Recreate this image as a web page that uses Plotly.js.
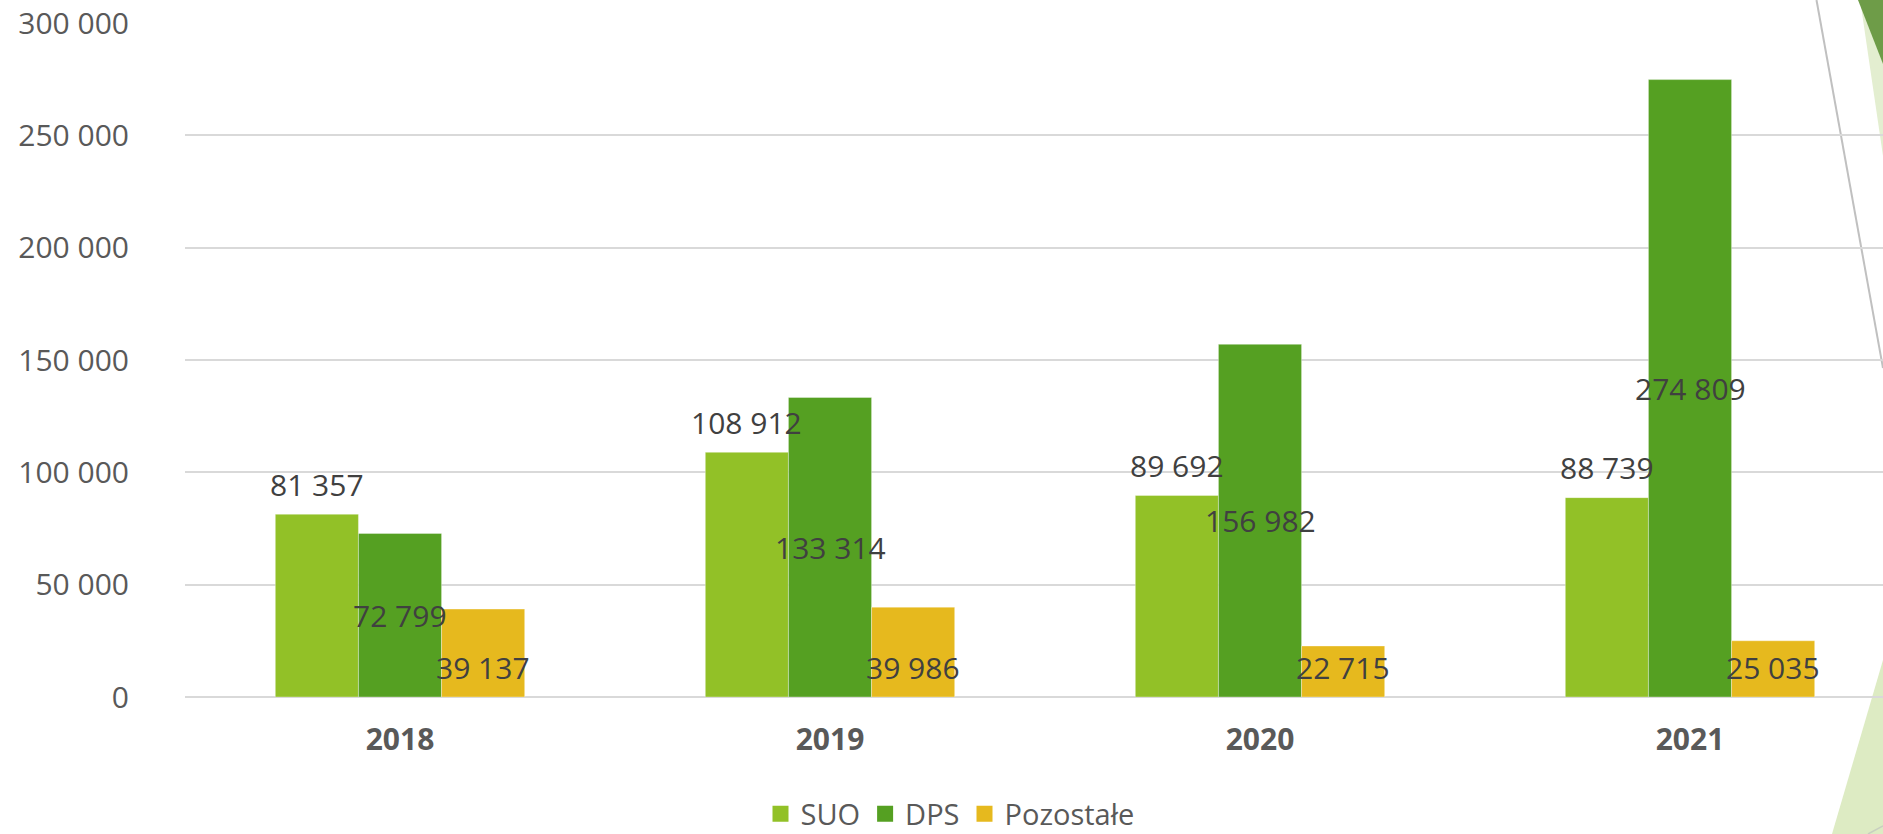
<!DOCTYPE html>
<html>
<head>
<meta charset="utf-8">
<script src="https://cdn.plot.ly/plotly-3.0.1.min.js"></script>
<style>html,body{margin:0;padding:0;background:#fff;}#chart{width:1883px;height:834px;}</style>
</head>
<body>
<div id="chart"></div>
<script>
// ---- data ----
const years = ['2018', '2019', '2020', '2021'];
const suo = [81357, 108912, 89692, 88739];
const dps = [72799, 133314, 156982, 274809];
const pozostale = [39137, 39986, 22715, 25035];
const seriesNames = ['SUO', 'DPS', 'Pozostałe'];
const yTickValues = [0, 50000, 100000, 150000, 200000, 250000, 300000];

// ---- styling ----
const colors = ['#92C127', '#55A022', '#E6B91E'];
const FONT = '"Open Sans", "Noto Sans", sans-serif';
const W = 1883, H = 834;
const M = {l: 185, r: 0, t: 23, b: 137};
const plotW = W - M.l - M.r, plotH = H - M.t - M.b;
const catPx = 430;                       // pixel width of one category
const xEnd = plotW / catPx - 0.5;
const bargap = 0.42;
const barW = (1 - bargap) / 3;

function fmt(v) { return String(v).replace(/\B(?=(\d{3})+(?!\d))/g, ' '); }
function px(x) { return (x - M.l) / plotW; }
function py(y) { return (H - M.b - y) / plotH; }

const series = [suo, dps, pozostale];
const traces = series.map((vals, k) => ({
  type: 'bar', x: years, y: vals, name: seriesNames[k],
  marker: {color: colors[k], line: {color: 'rgba(255,255,255,0.35)', width: 1}},
  showlegend: false, hoverinfo: 'x+y'
}));
// legend entries with larger square swatches
seriesNames.forEach((n, k) => traces.push({
  type: 'scatter', mode: 'markers', x: [years[0]], y: [null], name: n,
  marker: {symbol: 'square', size: 17, color: colors[k]}, hoverinfo: 'skip'
}));

const labelFont = {family: FONT, size: 30, color: '#404040'};
const annotations = [];
years.forEach((yr, i) => {
  annotations.push({x: i - barW, y: suo[i], xref: 'x', yref: 'y', text: fmt(suo[i]),
    showarrow: false, yanchor: 'middle', yshift: 30, font: labelFont});
  annotations.push({x: i, y: dps[i] / 2, xref: 'x', yref: 'y', text: fmt(dps[i]),
    showarrow: false, yanchor: 'middle', font: labelFont});
  annotations.push({x: i + barW, y: 0, xref: 'x', yref: 'y', text: fmt(pozostale[i]),
    showarrow: false, yanchor: 'middle', yshift: 30, font: labelFont});
});

// slide decoration on the right edge
const shapes = [
  {type: 'path', xref: 'paper', yref: 'paper', layer: 'below', line: {width: 0},
   fillcolor: '#E3EED0',
   path: `M${px(1861)},${py(6)} L${px(1883)},${py(63)} L${px(1883)},${py(156)} Z`},
  {type: 'path', xref: 'paper', yref: 'paper', layer: 'below', line: {width: 0},
   fillcolor: '#6E9C48',
   path: `M${px(1858)},${py(0)} L${px(1883)},${py(0)} L${px(1883)},${py(64)} Z`},
  {type: 'path', xref: 'paper', yref: 'paper', layer: 'below', line: {width: 0},
   fillcolor: '#DDEBC3',
   path: `M${px(1832)},${py(834)} L${px(1883)},${py(660)} L${px(1883)},${py(834)} Z`},
  {type: 'line', xref: 'paper', yref: 'paper', layer: 'below',
   x0: px(1816.5), y0: py(0), x1: px(1883), y1: py(368),
   line: {color: '#C0C0C0', width: 2}},
  {type: 'line', xref: 'paper', yref: 'paper', layer: 'below',
   x0: px(1868), y0: py(834), x1: px(1883), y1: py(826),
   line: {color: '#C8CFC0', width: 1.5}}
];

const layout = {
  width: W, height: H, margin: M,
  paper_bgcolor: '#ffffff', plot_bgcolor: 'rgba(0,0,0,0)',
  separators: ', ',
  barmode: 'group', bargap: bargap, bargroupgap: 0,
  font: {family: FONT, color: '#595959'},
  xaxis: {type: 'category', range: [-0.5, xEnd], showgrid: false, zeroline: false,
    showline: false, ticks: '', fixedrange: true, ticklabelstandoff: 22,
    tickfont: {family: FONT, size: 30, color: '#595959', weight: 'bold'}},
  yaxis: {range: [0, 300000], tickvals: yTickValues, tickformat: ',d', ticks: '',
    showgrid: true, gridcolor: '#D9D9D9', gridwidth: 2,
    zeroline: true, zerolinecolor: '#D9D9D9', zerolinewidth: 2,
    showline: false, ticklabelstandoff: 55,
    tickfont: {family: FONT, size: 30, color: '#595959'}},
  showlegend: true,
  legend: {orientation: 'h', xref: 'container', yref: 'container', x: 950 / W, xanchor: 'center',
    y: (H - 814) / H, yanchor: 'middle', itemsizing: 'trace', bgcolor: 'rgba(0,0,0,0)',
    font: {family: FONT, size: 29, color: '#595959'}},
  annotations: annotations, shapes: shapes
};

Plotly.newPlot('chart', traces, layout, {displayModeBar: false, staticPlot: true});
</script>
</body>
</html>
